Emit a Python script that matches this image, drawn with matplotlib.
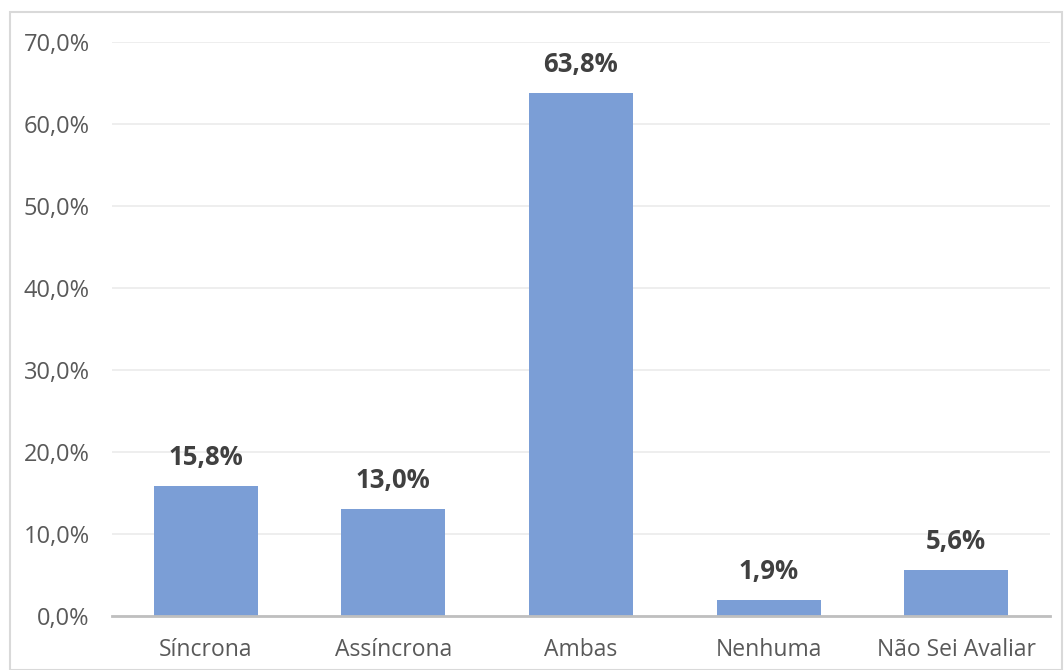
import matplotlib
matplotlib.use("Agg")
import matplotlib.pyplot as plt
from matplotlib.patches import Rectangle
from matplotlib.ticker import FuncFormatter

categories = ["Síncrona", "Assíncrona", "Ambas", "Nenhuma", "Não Sei Avaliar"]
values = [15.8, 13.0, 63.8, 1.9, 5.6]
yticks = [0, 10, 20, 30, 40, 50, 60, 70]

fig = plt.figure(figsize=(10.64, 6.70), dpi=100)
ax = fig.add_axes([112/1064, 54/670, (1050-112)/1064, (616-42)/670])

x = list(range(len(categories)))
ax.bar(x, values, width=0.555, color="#7B9ED6", zorder=3)

ax.set_xlim(-0.5, len(categories) - 0.5)
ax.set_ylim(0, 70)
ax.set_yticks(yticks)
ax.yaxis.set_major_formatter(FuncFormatter(lambda v, p: f"{v:.1f}%".replace(".", ",")))
ax.set_xticks(x)
ax.set_xticklabels(categories)

ax.grid(axis="y", color="#EBEBEB", linewidth=1.2, zorder=0)
for s in ["top", "right", "left"]:
    ax.spines[s].set_visible(False)
ax.spines["bottom"].set_color("#BFBFBF")
ax.spines["bottom"].set_linewidth(2)
ax.spines["bottom"].set_zorder(4)

ax.tick_params(axis="both", length=0, colors="#595959")
ax.tick_params(axis="y", pad=16, labelsize=17)
ax.tick_params(axis="x", pad=16, labelsize=16.5)
for lab in ax.get_xticklabels() + ax.get_yticklabels():
    lab.set_fontfamily("Open Sans")

for xi, v in zip(x, values):
    ax.annotate(f"{v:.1f}%".replace(".", ","), (xi, v), xytext=(0, 11),
                textcoords="offset points", ha="center", va="bottom",
                fontsize=18.5, fontweight="bold", color="#404040", family="Open Sans")

fig.patches.append(Rectangle((10/1064, 0.5/670), (1062-10)/1064, (658-0.5)/670,
                             transform=fig.transFigure, fill=False,
                             edgecolor="#D9D9D9", linewidth=1.5))

fig.savefig("out.png", dpi=100)
